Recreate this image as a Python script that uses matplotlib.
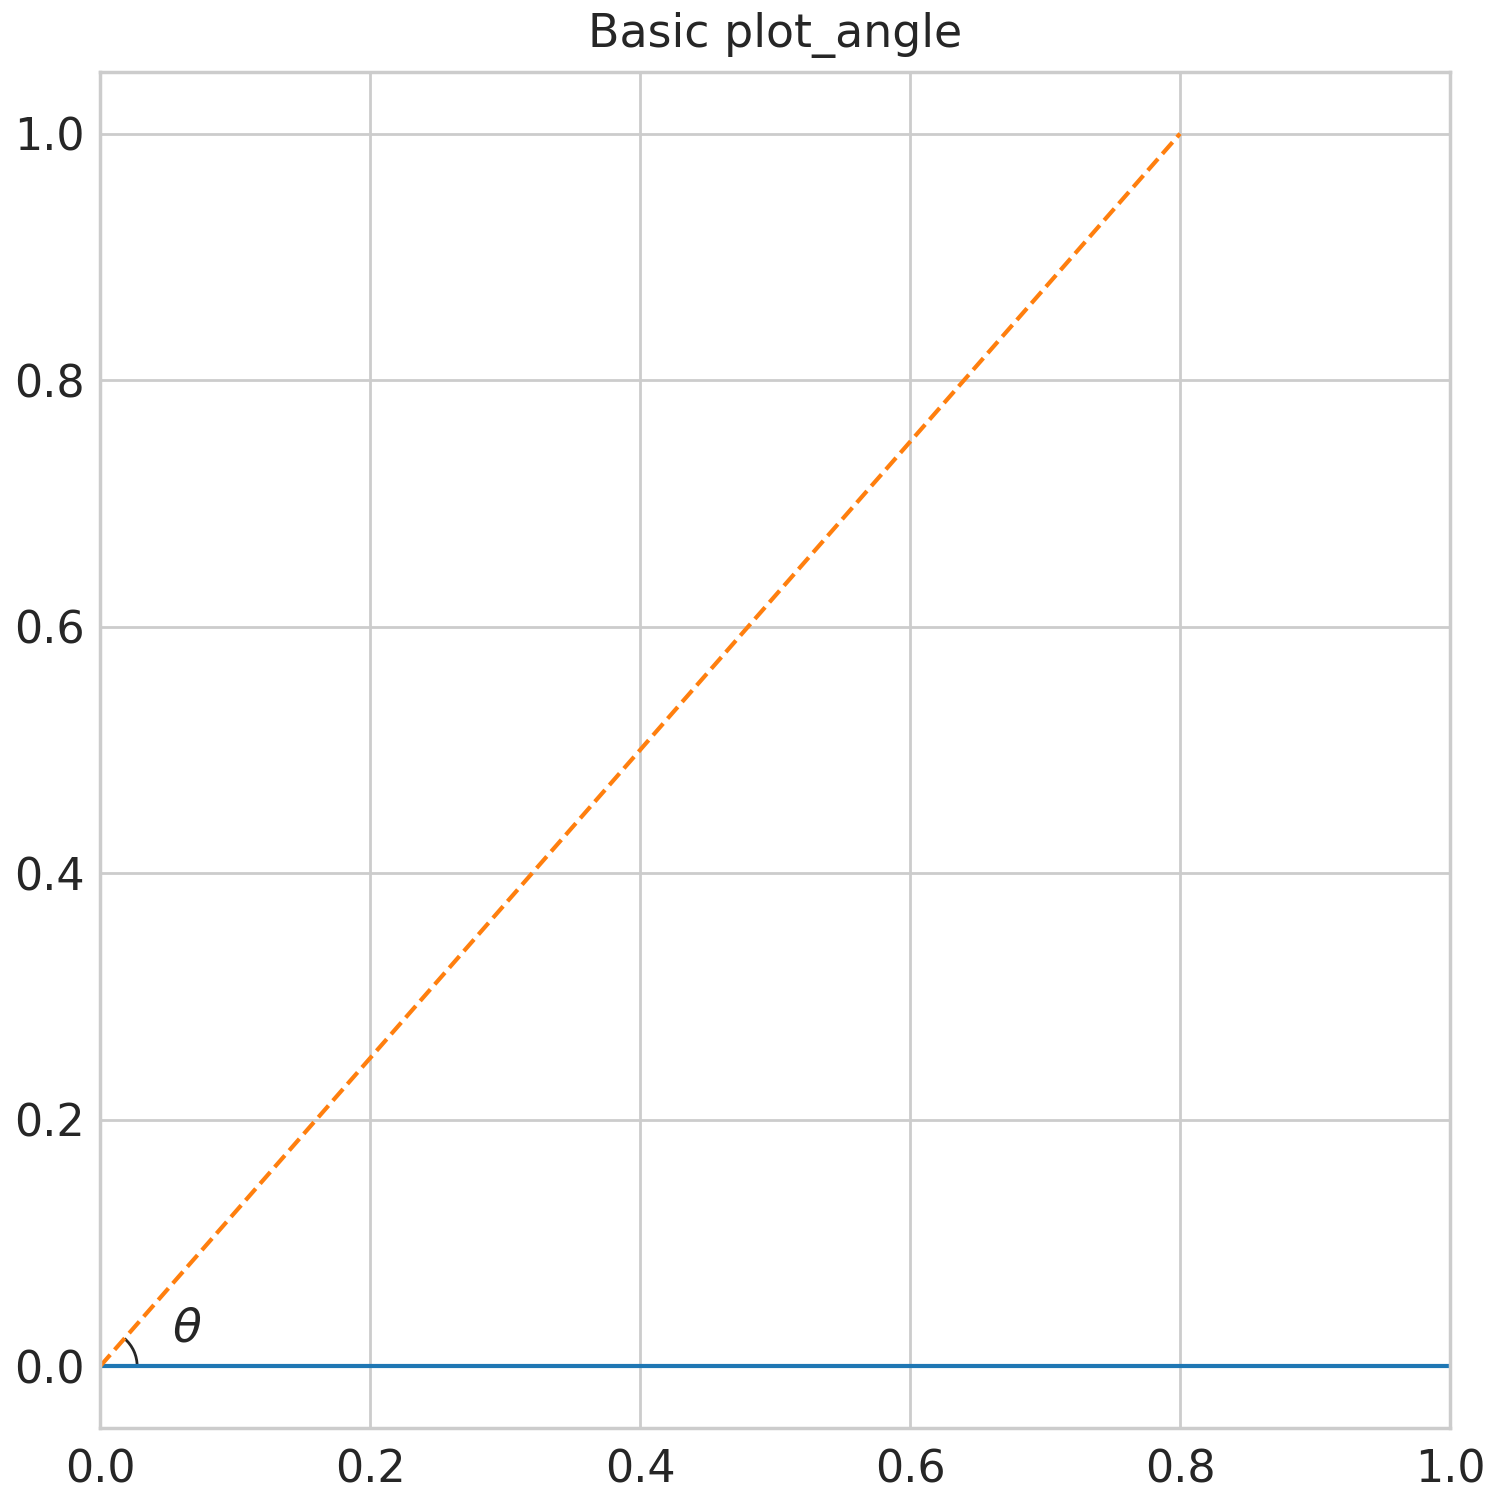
import numpy as np
import matplotlib
matplotlib.use('Agg')
import matplotlib.pyplot as plt
from matplotlib.patches import Arc
import seaborn as sns

sns.set_theme(style='whitegrid', context='poster', font_scale=1.5)
plt.rcParams['font.family'] = ['DejaVu Sans']

# データ
base_x = [0, 1]
base_y = [0, 0]
ray_x = [0, 0.8]
ray_y = [0, 1.0]
angle_label = r'$\theta$'

fig, ax = plt.subplots(figsize=(15, 15), dpi=100)
fig.subplots_adjust(left=0.0667, right=0.9667, top=0.952, bottom=0.048)

ax.plot(base_x, base_y, color='#1f77b4')
ax.plot(ray_x, ray_y, color='#ff7f0e', linestyle='--')

# 角度の弧
theta = np.degrees(np.arctan2(ray_y[1] - ray_y[0], ray_x[1] - ray_x[0]))
arc = Arc((base_x[0], base_y[0]), 0.055, 0.06, theta1=0, theta2=theta,
          color='0.15', lw=2)
ax.add_patch(arc)
ax.text(0.053, 0.02, angle_label, color='0.15', fontsize=34)

ax.set_xlim(0, 1)
ax.set_ylim(-0.05, 1.05)
ax.tick_params(axis='x', labelsize=32, pad=2.7)
ax.tick_params(axis='y', labelsize=32, pad=-1)
ax.set_title('Basic plot_angle', fontsize=33, pad=18)

fig.savefig('out.png')
